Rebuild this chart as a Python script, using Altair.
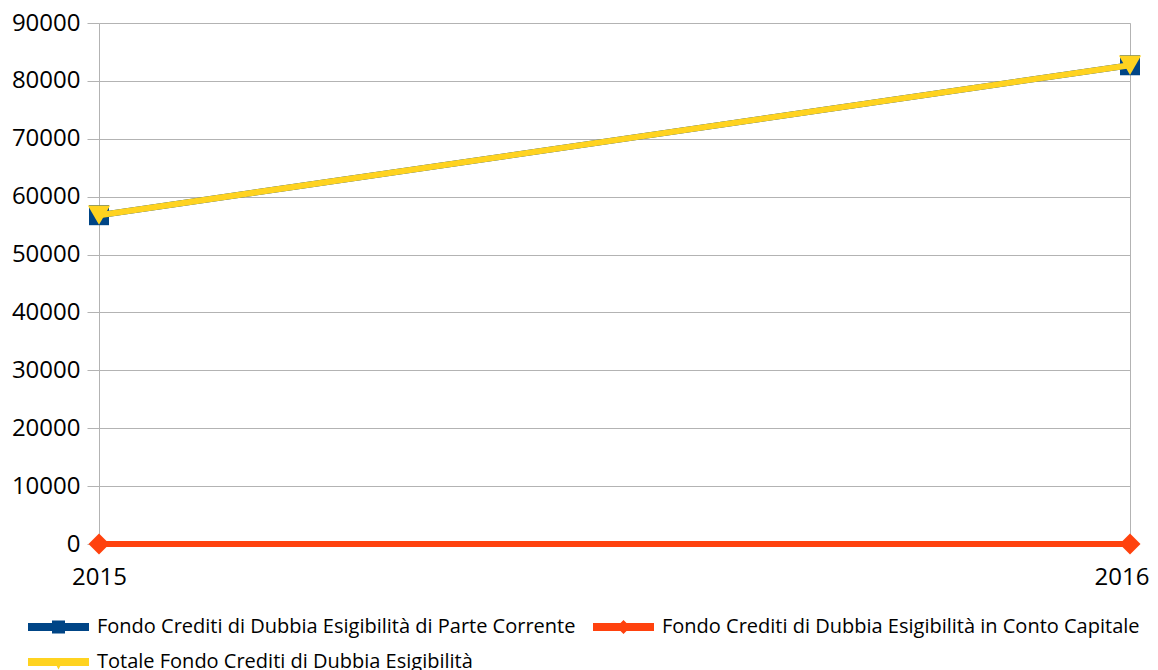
import altair as alt
import pandas as pd

years = [2015, 2016]
series = [
    "Fondo Crediti di Dubbia Esigibilità di Parte Corrente",
    "Fondo Crediti di Dubbia Esigibilità in Conto Capitale",
    "Totale Fondo Crediti di Dubbia Esigibilità",
]
corrente = [56800, 82700]
capitale = [0, 0]
totale = [56800, 82700]
colors = ["#004586", "#ff420e", "#ffd320"]
markers = ["square", "diamond", "triangle-down"]
marker_sizes = [400, 441, 500]
y_ticks = [0, 10000, 20000, 30000, 40000, 50000, 60000, 70000, 80000, 90000]

# legend glyphs: a line segment with the series marker on it
legend_paths = [
    "M-1,-0.4H5.1V0.4H-1Z M1.4,-0.65H2.7V0.65H1.4Z",
    "M-1,-0.4H5.1V0.4H-1Z M2.05,-0.7L2.75,0L2.05,0.7L1.35,0Z",
    "M-1,-0.4H5.1V0.4H-1Z M1.45,-0.4L2.65,-0.4L2.05,0.75Z",
]

rows = []
for name, vals in zip(series, [corrente, capitale, totale]):
    for yr, v in zip(years, vals):
        rows.append({"anno": yr, "valore": v, "serie": name})
df = pd.DataFrame(rows)

FONT = "Open Sans"
GRID = "#b3b3b3"

x_enc = alt.X(
    "anno:Q",
    scale=alt.Scale(domain=[2015, 2016], nice=False, zero=False),
    axis=alt.Axis(
        values=years, format="d", title=None, grid=True, gridColor=GRID,
        ticks=False, domain=False, labelFont=FONT, labelFontSize=24,
        labelColor="black", labelPadding=21, labelFlush=False,
        labelAlign={"condition": {"test": "datum.value == 2016", "value": "right"},
                    "value": "center"},
        labelOffset={"condition": {"test": "datum.value == 2016", "value": 19},
                     "value": 0},
    ),
)
y_enc = alt.Y(
    "valore:Q",
    scale=alt.Scale(domain=[0, 90000], nice=False),
    axis=alt.Axis(
        values=y_ticks, format="d", title=None, grid=True, gridColor=GRID,
        tickSize=12, tickColor=GRID, domain=False, labelFont=FONT,
        labelFontSize=24, labelColor="black", labelPadding=7,
    ),
)
stroke_scale = alt.Scale(domain=series, range=colors)

base = alt.Chart(df)

leg = dict(
    title=None, orient="none", legendX=-71, legendY=594, columns=2,
    direction="horizontal",
    symbolSize=400, labelFont=FONT, labelFontSize=20, labelColor="black",
    labelOffset=49, columnPadding=17, rowPadding=15, symbolOpacity=1,
    symbolStrokeWidth=0, padding=0, labelLimit=700,
)
dummy = base.mark_point(filled=True, opacity=0).encode(
    x=x_enc, y=y_enc,
    color=alt.Color("serie:N", scale=alt.Scale(domain=series, range=colors),
                    legend=alt.Legend(**leg)),
    shape=alt.Shape("serie:N", scale=alt.Scale(domain=series, range=legend_paths),
                    legend=alt.Legend(**leg)),
)

layers = [dummy]
for i, name in enumerate(series):
    sub = base.transform_filter(alt.datum.serie == name)
    layers.append(
        sub.mark_line(strokeWidth=6).encode(
            x=x_enc, y=y_enc,
            stroke=alt.Stroke("serie:N", scale=stroke_scale, legend=None),
        )
    )
    layers.append(
        sub.mark_point(shape=markers[i], filled=True, size=marker_sizes[i], opacity=1,
                       strokeWidth=0).encode(
            x=x_enc, y=y_enc,
            fill=alt.Fill("serie:N", scale=stroke_scale, legend=None),
        )
    )

chart = alt.layer(*layers).properties(
    width=1031, height=521,
    autosize=alt.AutoSizeParams(type="none"),
    padding={"left": 91, "top": 15, "right": 20, "bottom": 126},
).configure_view(stroke=None).configure(background="white")

chart.save("out.html", embed_options={"renderer": "svg", "actions": False})
